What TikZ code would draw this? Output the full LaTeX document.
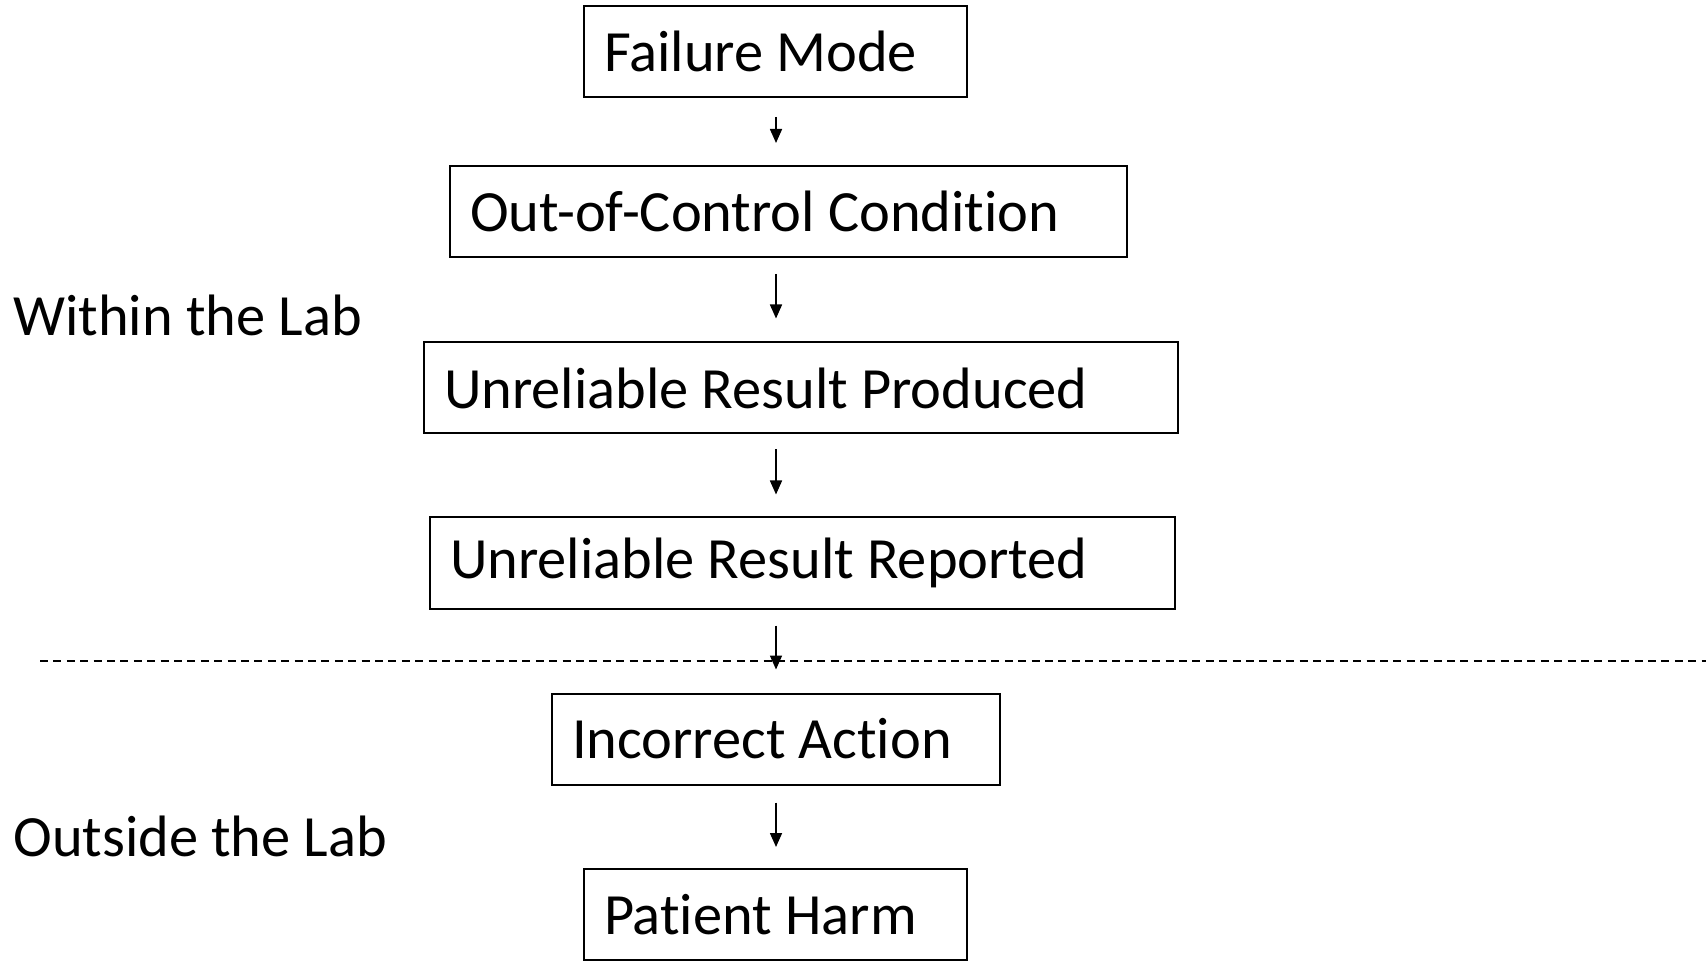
\documentclass[tikz,border=0pt]{standalone}
\usepackage{fontspec}
\setmainfont{Carlito}[Ligatures=NoCommon]
\usetikzlibrary{arrows.meta,calc}

\begin{document}
\begin{tikzpicture}[
    x=0.5pt, y=-0.5pt,
    stage/.style={rectangle, draw, line width=1pt, inner xsep=10pt, inner ysep=0pt, minimum height=45.5pt, text width=#1, align=flush left, font=\fontsize{29.2}{33}\selectfont},
    flow/.style={-{Triangle[width=6pt,length=7pt]}, line width=0.8pt},
    divider/.style={dashed, dash pattern=on 4pt off 2.7pt, line width=1pt},
    zone/.style={anchor=west, inner sep=0pt, font=\fontsize{29.2}{33}\selectfont}
]
\useasboundingbox (0,0) rectangle (1706,961);

% Chain of events
\node[stage=171.5pt] (fail) at (775.5,51.5) {Failure Mode};
\node[stage=318.5pt] (ooc) at (788.5,211.5) {Out-of-Control Condition};
\node[stage=357pt] (produced) at (801,388) {Unreliable Result Produced};
\node[stage=352.5pt] (reported) at (802.5,563) {Unreliable Result Reported};
\node[stage=204pt] (action) at (776,739) {Incorrect Action};
\node[stage=171.5pt] (harm) at (775.5,914.5) {Patient Harm};

% Arrows
\coordinate (axis) at (776,0);
\draw[flow, shorten <=9.5pt, shorten >=11pt] (fail.south -| axis) -- (ooc.north -| axis);
\draw[flow, shorten <=8pt, shorten >=11.5pt] (ooc.south -| axis) -- (produced.north -| axis);
\draw[flow, shorten <=7.5pt, shorten >=11pt] (produced.south -| axis) -- (reported.north -| axis);
\draw[flow, shorten <=8pt, shorten >=11.5pt] (reported.south -| axis) -- (action.north -| axis);
\draw[flow, shorten <=8.5pt, shorten >=10.5pt] (action.south -| axis) -- (harm.north -| axis);

% Lab boundary
\coordinate (divl) at (40,661);
\coordinate (divr) at (1706,661);
\draw[divider] (divl) -- (divr);

% Zones
\node[zone] (inside) at (13,315) {Within the Lab};
\node[zone] (outside) at (13,836) {Outside the Lab};

\end{tikzpicture}
\end{document}
